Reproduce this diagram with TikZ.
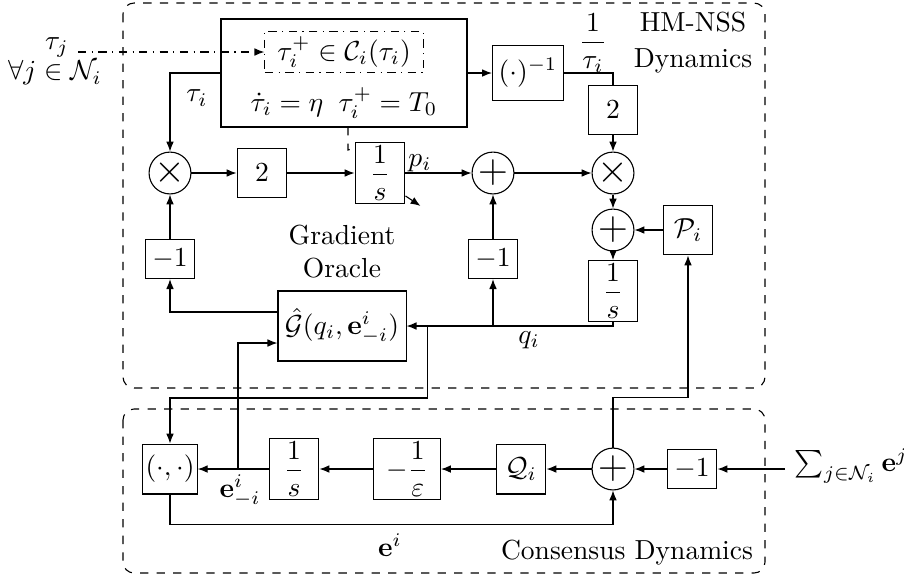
\documentclass[tikz,border=0pt]{standalone}
\usepackage{amsmath,amssymb}
\usepackage{tikz}
\usetikzlibrary{arrows.meta,calc}

\begin{document}
\begin{tikzpicture}[>={Latex[length=3.6pt,width=2.8pt]}, x=0.363pt, y=-0.363pt]
  \tikzstyle{blk}=[rectangle,draw=black,minimum width=18.1pt,minimum height=18.1pt,inner sep=1pt]
  \tikzstyle{gain}=[blk,minimum height=14.2pt]
  \tikzstyle{junc}=[circle,draw=black,minimum size=15.2pt,inner sep=0pt,font=\Large]

\useasboundingbox (0,0) rectangle (904,579);

% frames
\draw[dashed,rounded corners=4] (123,3) rectangle (765,388);
\draw[dashed,rounded corners=4] (123,409) rectangle (765,573);
\node [align=center] at (693,43) {HM-NSS\\[1pt]Dynamics};
\node at (627,553) {Consensus Dynamics};

% hybrid clock
\draw (221,19) rectangle (467,127);
\coordinate (hyb) at (344,73);
\node [draw,dash dot,minimum width=57.4pt,minimum height=15.2pt,inner sep=0pt] (jump) at (344,52) {$\tau_i^+\in\mathcal{C}_i(\tau_i)$};
\node (flow) at (344,103) {$\dot{\tau}_i=\eta\;\;\tau_i^+=T_0$};
\node (tj) at (57,47) {$\tau_j$};
\node (nbr) at (55,73) {$\forall j\in\mathcal{N}_i$};
\coordinate (tin) at (78,52);
\coordinate (hybw) at (221,73);
\coordinate (hybe) at (467,73);
\coordinate (hybs) at (348,127);

% upper loop
\node [junc] (mula) at (170,173) {$\times$};
\node [blk] (twoa) at (262,173) {$2$};
\node [blk] (inta) at (380,173) {$\dfrac{1}{s}$};
\node [junc] (suma) at (493,173) {$+$};
\node [junc] (mulb) at (613,173) {$\times$};
\node [blk,minimum width=25.8pt,minimum height=20pt] (inv) at (528,73) {$(\cdot)^{-1}$};
\node [blk] (twob) at (613,110) {$2$};
\node [junc] (sumb) at (613,230) {$+$};
\node [blk] (proj) at (688,230) {$\mathcal{P}_i$};
\node [blk] (intb) at (613,291) {$\dfrac{1}{s}$};
\node [gain] (nega) at (170,259) {$-1$};
\node [gain] (negb) at (493,259) {$-1$};
\node [blk,minimum width=46.5pt,minimum height=25.4pt] (grad) at (342,326) {$\hat{\mathcal{G}}(q_i,\mathbf{e}^i_{-i})$};
\node [align=center] at (342,252) {Gradient\\Oracle};

% consensus
\node [blk] (pair) at (170,469) {$(\cdot,\cdot)$};
\node [blk] (intc) at (294,469) {$\dfrac{1}{s}$};
\node [blk,minimum width=24.3pt] (eps) at (407,469) {$-\dfrac{1}{\varepsilon}$};
\node [blk] (quant) at (521,469) {$\mathcal{Q}_i$};
\node [junc] (sumc) at (613,469) {$+$};
\node [gain] (negc) at (692,469) {$-1$};
\node [anchor=west] (esum) at (785,466) {$\sum_{j\in\mathcal{N}_i}\mathbf{e}^j$};

\coordinate (qb) at ($(grad.east)+(21,0)$);
\coordinate (eb) at (238,469);

% labels
\node at (197,98) {$\tau_i$};
\node at (420,163) {$p_i$};
\node at (593,43) {$\dfrac{1}{\tau_i}$};
\node at (529,340) {$q_i$};
\node at (240,491) {$\mathbf{e}^i_{-i}$};
\node at (390,545) {$\mathbf{e}^i$};

% connectors
\draw [->,dash dot] (tin) -- (jump.west);
\draw [->] (hybw) -| (mula);
\draw [->] (hybe) -- (inv.west);
\draw (inv.east) -| (twob.north);
\draw [->] (twob) -- (mulb);
\foreach \a/\b in {mula/twoa, twoa/inta, inta/suma, suma/mulb, mulb/sumb, proj/sumb, sumb/intb, nega/mula, negb/suma} {
  \draw [->] (\a) -- (\b);
}
\draw [dashed] (hybs) -- ++(0,23) -- ($(inta.north west)+(0,6)$);
\draw [dashed,->] ($(inta.south east)+(0,-8)$) -- ++(15,10);
\draw [->] (intb.south) |- (grad.east);
\draw [->] (negb |- grad.east) -- (negb);
\draw [->] ($(grad.west)+(0,-14)$) -| (nega);
\draw [->] (qb) -- ++(0,72) -| (pair);
\foreach \a/\b in {negc/sumc, sumc/quant, quant/eps, eps/intc, intc/pair} {
  \draw [->] (\a) -- (\b);
}
\draw [->] (esum.west |- negc) -- (negc);
\draw [->] (eb) |- ($(grad.west)+(0,17)$);
\draw [->] (pair.south) -- ++(0,30) -| (sumc);
\draw [->] (sumc.north) -- ++(0,-50) -| (proj);

\end{tikzpicture}
\end{document}
